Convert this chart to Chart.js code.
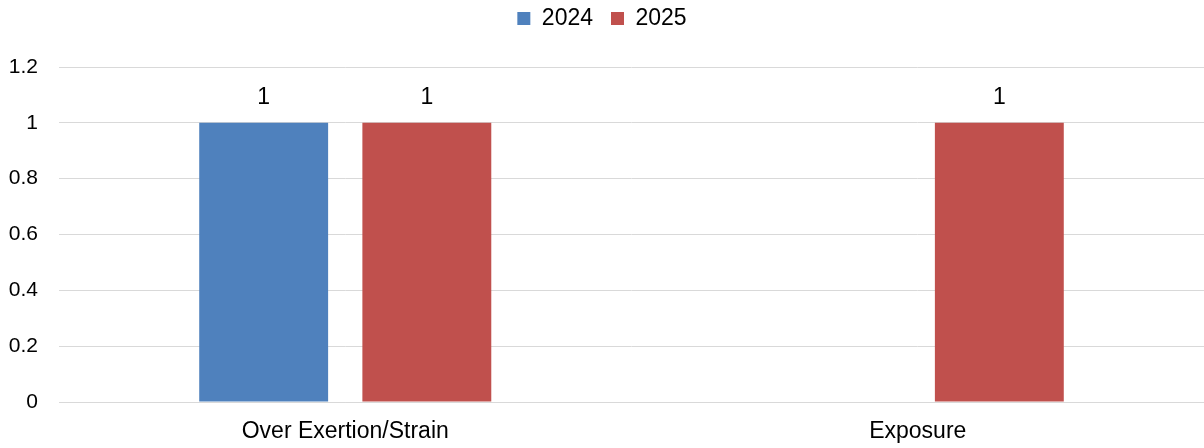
<!DOCTYPE html>
<html>
<head>
<meta charset="utf-8">
<script src="https://cdn.jsdelivr.net/npm/chart.js@4"></script>
<style>
  body { margin: 0; background: #fff; }
  #wrap { width: 1204px; height: 448px; }
</style>
</head>
<body>
<div id="wrap"><canvas id="chart" width="1204" height="448"></canvas></div>
<script>
const categories = ['Over Exertion/Strain', 'Exposure'];
const seriesNames = ['2024', '2025'];
const values2024 = [1, null];
const values2025 = [1, 1];

const FONT = 'Liberation Sans, Arial, sans-serif';

// draws the value above each bar
const barLabels = {
  id: 'barLabels',
  afterDatasetsDraw(chart) {
    const ctx = chart.ctx;
    ctx.save();
    ctx.font = '23px ' + FONT;
    ctx.fillStyle = '#000';
    ctx.textAlign = 'center';
    ctx.textBaseline = 'middle';
    chart.data.datasets.forEach((ds, i) => {
      chart.getDatasetMeta(i).data.forEach((bar, j) => {
        const v = ds.data[j];
        if (v === null || v === undefined) return;
        ctx.fillText(String(v), bar.x, bar.y - 25);
      });
    });
    ctx.restore();
  }
};

// extra room under the legend
const legendSpace = {
  id: 'legendSpace',
  beforeInit(chart) {
    const fit = chart.legend.fit;
    chart.legend.fit = function () {
      fit.call(this);
      this.height += 27;
    };
  }
};

new Chart(document.getElementById('chart'), {
  type: 'bar',
  data: {
    labels: categories,
    datasets: [
      { label: seriesNames[0], data: values2024, backgroundColor: '#4f81bd' },
      { label: seriesNames[1], data: values2025, backgroundColor: '#c0504d' }
    ]
  },
  options: {
    responsive: false,
    animation: false,
    categoryPercentage: 0.57,
    barPercentage: 0.79,
    layout: { padding: { top: -11, right: 0, left: 0, bottom: 0 } },
    plugins: {
      legend: {
        position: 'top',
        labels: {
          boxWidth: 13,
          boxHeight: 13,
          padding: 18,
          color: '#000',
          font: { family: FONT, size: 23 }
        }
      },
      tooltip: { enabled: false }
    },
    scales: {
      x: {
        grid: { display: false },
        border: { color: '#d9d9d9' },
        ticks: { color: '#000', font: { family: FONT, size: 23 }, padding: 8 },
        afterFit(scale) { scale.height = 46; }
      },
      y: {
        min: 0,
        max: 1.2,
        ticks: {
          stepSize: 0.2,
          color: '#000',
          font: { family: FONT, size: 21 },
          padding: 21,
          callback: (v) => String(Math.round(v * 10) / 10)
        },
        grid: { color: '#d9d9d9', drawTicks: false },
        border: { display: false },
        afterFit(scale) { scale.width = 59; }
      }
    }
  },
  plugins: [barLabels, legendSpace]
});
</script>
</body>
</html>
